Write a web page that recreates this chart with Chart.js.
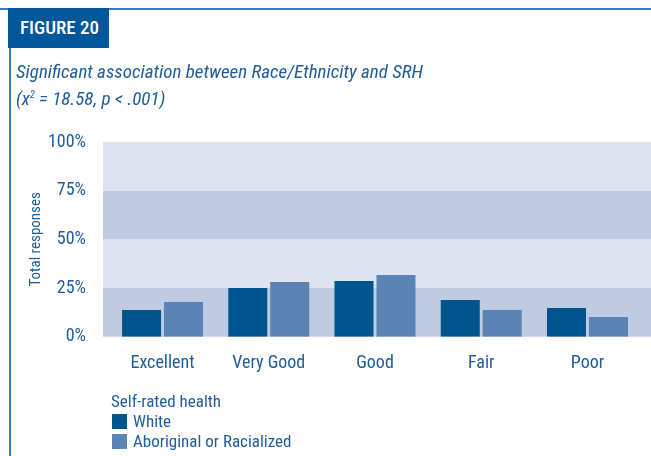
<!DOCTYPE html>
<html>
<head>
<meta charset="utf-8">
<script src="https://cdn.jsdelivr.net/npm/chart.js@4"></script>
<style>
  html, body { margin: 0; padding: 0; background: #fff; }
  body { width: 651px; height: 456px; position: relative; overflow: hidden;
         font-family: 'Roboto Condensed', sans-serif; font-weight: 400; color: #1f5c99; }
  #chart-wrap { position: absolute; left: 0; top: 0; width: 651px; height: 456px; }
  .topline { position: absolute; left: 0; top: 8px; width: 651px; height: 2px; background: #3a7cc0; }
  .leftline { position: absolute; left: 9px; top: 48px; width: 2px; height: 408px; background: #3a7cc0; }
  .figbox { position: absolute; left: 8px; top: 8px; width: 101px; height: 40px; background: #00579a;
            color: #fff; font-size: 19px; font-weight: 500; line-height: 40px; text-indent: 12px; }
  .subtitle { position: absolute; left: 16px; top: 58px; font-size: 19px; font-style: italic; line-height: 27px; }
  .subtitle sup { font-size: 10px; vertical-align: 7px; line-height: 0; }
  .legend { position: absolute; left: 111px; top: 391px; font-size: 17px; line-height: 20px; }
  .legend .item { position: relative; padding-left: 22px; }
  .legend .sw { position: absolute; left: 1px; top: 2.5px; width: 15px; height: 15px; }
</style>
</head>
<body>
<div id="chart-wrap"><canvas id="srh-chart"></canvas></div>
<div class="topline"></div>
<div class="leftline"></div>
<div class="figbox">FIGURE 20</div>
<div class="subtitle">Significant association between Race/Ethnicity and SRH<br>(x<sup>2</sup> = 18.58, p &lt; .001)</div>
<div class="legend">
  <div>Self-rated health</div>
  <div class="item"><span class="sw" style="background:#00558f"></span>White</div>
  <div class="item"><span class="sw" style="background:#5b84b5"></span>Aboriginal or Racialized</div>
</div>
<script>
const ctx = document.getElementById('srh-chart');

const categories = ['Excellent', 'Very Good', 'Good', 'Fair', 'Poor'];
const whiteValues = [13.7, 25.0, 28.6, 18.8, 14.7];
const racializedValues = [17.8, 28.1, 31.7, 13.7, 10.1];
const yTicks = [0, 25, 50, 75, 100];

const textColor = '#1f5c99';
const whiteColor = '#00558f';
const racializedColor = '#5b84b5';
const bandLight = '#dde3f0';
const bandDark = '#bfcbe2';
const fontFamily = "'Roboto Condensed', sans-serif";

// striped background behind the bars, a bit wider than the plot area
const bands = {
    id: 'bands',
    beforeDatasetsDraw(chart) {
        const y = chart.scales.y;
        const c = chart.ctx;
        c.save();
        for (let i = 0; i < yTicks.length - 1; i++) {
            const top = y.getPixelForValue(yTicks[i + 1]);
            const bottom = y.getPixelForValue(yTicks[i]);
            c.fillStyle = i % 2 === 0 ? bandDark : bandLight;
            c.fillRect(103, top, chart.width - 103, bottom - top);
        }
        c.restore();
    }
};

new Chart(ctx, {
    type: 'bar',
    data: {
        labels: categories,
        datasets: [
            {
                label: 'White',
                data: whiteValues,
                backgroundColor: whiteColor,
                categoryPercentage: 0.79,
                barPercentage: 0.93
            },
            {
                label: 'Aboriginal or Racialized',
                data: racializedValues,
                backgroundColor: racializedColor,
                categoryPercentage: 0.79,
                barPercentage: 0.93
            }
        ]
    },
    options: {
        responsive: true,
        maintainAspectRatio: false,
        animation: false,
        layout: { padding: { top: 142, left: 0, right: 10.4, bottom: 0 } },
        plugins: {
            legend: { display: false },
            tooltip: { enabled: false }
        },
        scales: {
            x: {
                grid: { display: false, drawTicks: false },
                border: { display: false },
                ticks: {
                    color: textColor,
                    padding: 16,
                    font: { family: fontFamily, size: 18 }
                },
                afterFit: (s) => { s.height = 119.3; }
            },
            y: {
                min: 0,
                max: 100,
                afterBuildTicks: (s) => { s.ticks = yTicks.map(v => ({ value: v })); },
                grid: { display: false, drawTicks: false },
                border: { display: false },
                ticks: {
                    color: textColor,
                    padding: 23.4,
                    font: { family: fontFamily, size: 18 },
                    callback: (v) => v + '%'
                },
                title: {
                    display: true,
                    text: 'Total responses',
                    color: textColor,
                    padding: { top: 27, bottom: 0 },
                    font: { family: fontFamily, size: 15 }
                },
                afterFit: (s) => { s.width = 109.4; }
            }
        }
    },
    plugins: [bands]
});
</script>
</body>
</html>
